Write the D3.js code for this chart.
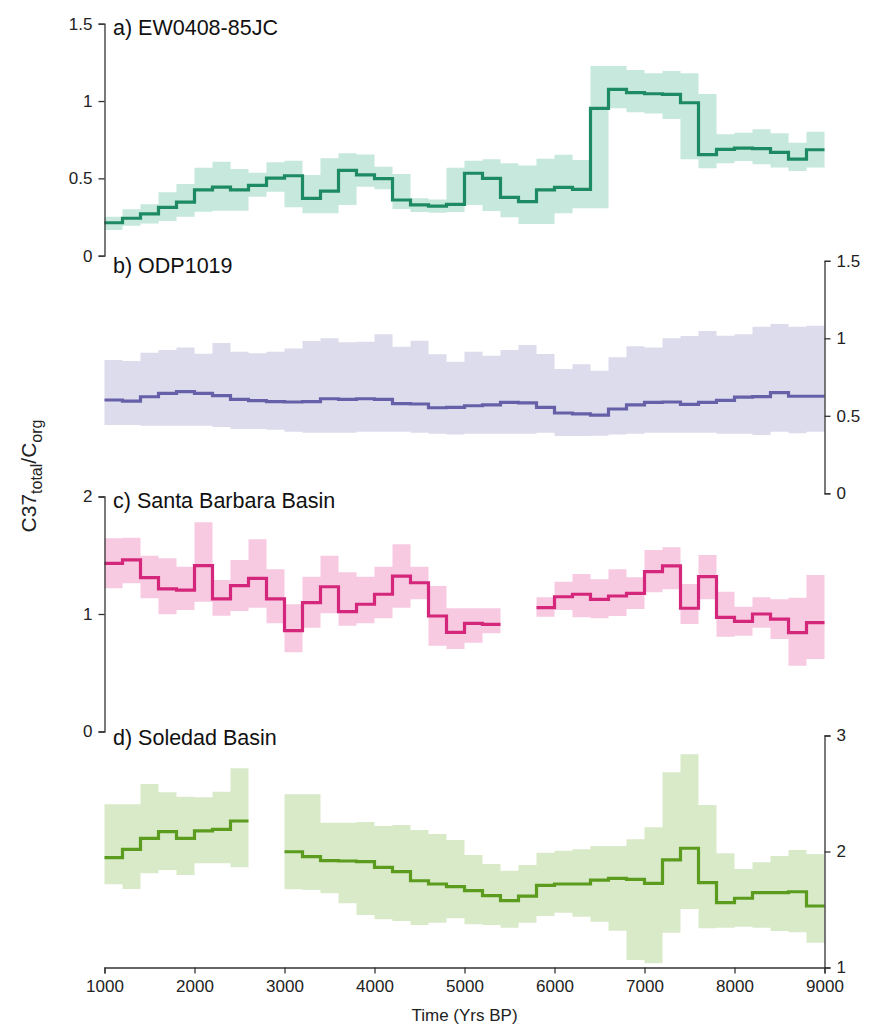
<!DOCTYPE html>
<html>
<head>
<meta charset="utf-8">
<script src="https://cdn.jsdelivr.net/npm/d3@7"></script>
<style>
  html, body { margin: 0; padding: 0; background: #fff; }
  svg { display: block; font-family: "Liberation Sans", Arial, Helvetica, sans-serif; }
</style>
</head>
<body>
<svg id="chart" width="869" height="1029"></svg>
<script>
// 200-year bins, 1000-9000 yr BP (bin start years)
const binStarts = [1000,1200,1400,1600,1800,2000,2200,2400,2600,2800,
                   3000,3200,3400,3600,3800,4000,4200,4400,4600,4800,
                   5000,5200,5400,5600,5800,6000,6200,6400,6600,6800,
                   7000,7200,7400,7600,7800,8000,8200,8400,8600,8800];
const binWidth = 200;
const xTicks = [1000,2000,3000,4000,5000,6000,7000,8000,9000];

// a) EW0408-85JC
const ewMid = [0.213,0.242,0.27,0.313,0.347,0.425,0.444,0.425,0.455,0.502,
               0.517,0.371,0.418,0.552,0.522,0.498,0.36,0.328,0.321,0.332,
               0.533,0.5,0.377,0.349,0.425,0.442,0.429,0.953,1.076,1.054,
               1.047,1.043,0.989,0.653,0.688,0.696,0.692,0.668,0.625,0.685];
const ewHigh = [0.252,0.30,0.332,0.41,0.463,0.569,0.608,0.56,0.537,0.604,
                0.614,0.522,0.63,0.662,0.655,0.575,0.528,0.371,0.364,0.569,
                0.614,0.623,0.597,0.584,0.627,0.653,0.619,1.226,1.226,1.2,
                1.179,1.194,1.179,1.045,0.785,0.795,0.817,0.791,0.73,0.802];
const ewLow = [0.166,0.194,0.209,0.224,0.252,0.284,0.291,0.291,0.381,0.414,
               0.313,0.274,0.274,0.328,0.446,0.429,0.302,0.282,0.278,0.282,
               0.328,0.289,0.248,0.205,0.205,0.274,0.306,0.306,0.953,0.927,
               0.92,0.884,0.623,0.565,0.597,0.612,0.591,0.571,0.548,0.571];

// b) ODP1019
const odpMid = [0.602,0.595,0.623,0.645,0.656,0.645,0.63,0.606,0.598,0.591,
                0.589,0.591,0.61,0.606,0.61,0.606,0.578,0.576,0.552,0.555,
                0.565,0.57,0.587,0.583,0.555,0.518,0.512,0.505,0.544,0.57,
                0.587,0.589,0.574,0.587,0.6,0.621,0.624,0.649,0.626,0.626];
const odpHigh = [0.86,0.853,0.907,0.925,0.94,0.901,0.97,0.914,0.903,0.914,
                 0.935,0.983,1.0,0.974,0.978,1.026,0.946,0.985,0.897,0.849,
                 0.914,0.888,0.925,0.957,0.899,0.802,0.832,0.791,0.877,0.948,
                 0.94,1.0,1.015,1.047,1.017,1.026,1.075,1.092,1.075,1.081];
const odpLow = [0.441,0.441,0.436,0.436,0.436,0.436,0.428,0.415,0.415,0.41,
                0.397,0.39,0.39,0.39,0.397,0.397,0.397,0.39,0.385,0.38,
                0.385,0.385,0.385,0.385,0.39,0.37,0.37,0.372,0.38,0.385,
                0.39,0.39,0.39,0.39,0.385,0.385,0.376,0.397,0.387,0.397];

// c) Santa Barbara Basin (no data 5400-5800)
const sbbMid = [1.431,1.46,1.309,1.213,1.204,1.411,1.128,1.241,1.304,1.128,
                0.858,1.096,1.232,1.02,1.083,1.168,1.323,1.266,0.983,0.844,
                0.921,0.912,null,null,1.054,1.147,1.168,1.125,1.153,1.176,
                1.36,1.409,1.049,1.318,0.972,0.938,1.0,0.957,0.841,0.926];
const sbbHigh = [1.644,1.65,1.496,1.474,1.403,1.78,1.289,1.46,1.636,1.38,
                 1.083,1.318,1.496,1.355,1.318,1.403,1.593,1.403,1.238,1.049,
                 1.049,1.049,null,null,1.142,1.275,1.34,1.295,1.38,1.312,
                 1.545,1.568,1.255,1.502,1.19,1.062,1.142,1.125,1.139,1.332];
const sbbLow = [1.219,1.261,1.134,0.997,1.034,1.105,0.986,1.026,1.054,0.921,
                0.674,0.883,1.006,0.9,0.921,0.963,1.054,1.125,0.73,0.702,
                0.756,0.836,null,null,0.977,1.034,0.972,0.963,0.983,1.043,
                1.185,1.21,0.915,1.125,0.807,0.815,0.883,0.787,0.56,0.617];

// d) Soledad Basin (no data 2600-3000)
const solMid = [1.947,2.019,2.114,2.171,2.114,2.177,2.191,2.263,null,null,
                1.998,1.955,1.921,1.918,1.912,1.864,1.826,1.748,1.72,1.697,
                1.662,1.619,1.576,1.616,1.708,1.72,1.72,1.754,1.769,1.76,
                1.726,1.927,2.028,1.731,1.559,1.597,1.645,1.645,1.653,1.53];
const solHigh = [2.407,2.407,2.582,2.51,2.472,2.467,2.516,2.717,null,null,
                 2.493,2.493,2.248,2.248,2.254,2.22,2.228,2.185,2.151,2.099,
                 1.97,1.892,1.835,1.884,1.99,2.007,2.019,2.047,2.047,2.105,
                 2.209,2.683,2.838,2.401,1.984,1.849,1.907,1.961,2.013,1.978];
const solLow = [1.717,1.677,1.812,1.841,1.797,1.898,1.898,1.864,null,null,
                1.674,1.668,1.64,1.553,1.453,1.415,1.401,1.366,1.386,1.424,
                1.372,1.366,1.343,1.386,1.444,1.473,1.438,1.395,1.317,1.065,
                1.036,1.3,1.504,1.338,1.343,1.352,1.343,1.315,1.303,1.214];

const svg = d3.select("#chart");
const axisColor = "#333";
const x = d3.scaleLinear().domain([1000, 9000]).range([104.5, 824.5]);

const panels = [
  { title: "a) EW0408-85JC", mid: ewMid, hi: ewHigh, lo: ewLow,
    domain: [0, 1.5], range: [255.7, 23.7], ticks: [0, 0.5, 1, 1.5], side: "left",
    line: "#1d8a63", band: "#c6e8dd", titleY: 35 },
  { title: "b) ODP1019", mid: odpMid, hi: odpHigh, lo: odpLow,
    domain: [0, 1.5], range: [493.3, 260.8], ticks: [0, 0.5, 1, 1.5], side: "right",
    line: "#6660a8", band: "#dddcec", titleY: 273 },
  { title: "c) Santa Barbara Basin", mid: sbbMid, hi: sbbHigh, lo: sbbLow,
    domain: [0, 2], range: [731.5, 496.5], ticks: [0, 1, 2], side: "left",
    line: "#d4267a", band: "#f8cae2", titleY: 508 },
  { title: "d) Soledad Basin", mid: solMid, hi: solHigh, lo: solLow,
    domain: [1, 3], range: [967.5, 735.5], ticks: [1, 2, 3], side: "right",
    line: "#5b9b1d", band: "#d9eac9", titleY: 745 }
];

// split a binned series into contiguous runs of step points
function runs(mid, hi, lo) {
  const out = [];
  let cur = null;
  binStarts.forEach((t, i) => {
    if (mid[i] == null) { cur = null; return; }
    if (!cur) { cur = []; out.push(cur); }
    cur.push({ t, v: mid[i], hi: hi[i], lo: lo[i] });
  });
  out.forEach(r => {
    const last = r[r.length - 1];
    r.push({ t: last.t + binWidth, v: last.v, hi: last.hi, lo: last.lo });
  });
  return out;
}

panels.forEach(p => {
  const y = d3.scaleLinear().domain(p.domain).range(p.range);
  const g = svg.append("g");
  const segs = runs(p.mid, p.hi, p.lo);

  const area = d3.area().curve(d3.curveStepAfter)
    .x(d => x(d.t)).y0(d => y(d.lo)).y1(d => y(d.hi));
  const line = d3.line().curve(d3.curveStepAfter)
    .x(d => x(d.t)).y(d => y(d.v));

  g.selectAll("path.band").data(segs).join("path")
    .attr("class", "band").attr("d", area)
    .attr("fill", p.band).attr("stroke", "none");
  g.selectAll("path.mid").data(segs).join("path")
    .attr("class", "mid").attr("d", line)
    .attr("fill", "none").attr("stroke", p.line)
    .attr("stroke-width", 3.2).attr("stroke-linejoin", "miter");

  const axis = (p.side === "left" ? d3.axisLeft(y) : d3.axisRight(y))
    .tickValues(p.ticks).tickSizeOuter(0).tickSize(6).tickPadding(6)
    .tickFormat(d3.format("~g"));
  const ax = svg.append("g")
    .attr("transform", `translate(${p.side === "left" ? x(1000) : x(9000)},0)`)
    .call(axis);
  ax.select(".domain").attr("stroke", axisColor).attr("stroke-width", 1.3);
  ax.selectAll(".tick line").attr("stroke", axisColor).attr("stroke-width", 1.3);
  ax.selectAll(".tick text").attr("fill", "#222").attr("font-size", 17)
    .attr("font-family", "Liberation Sans, Arial, sans-serif");

  svg.append("text")
    .attr("x", 113).attr("y", p.titleY)
    .attr("font-size", 21.5).attr("fill", "#111")
    .text(p.title);
});

// shared time axis
const xAxis = d3.axisBottom(x).tickValues(xTicks).tickSizeOuter(0)
  .tickSize(6).tickPadding(6).tickFormat(d3.format("d"));
const xa = svg.append("g").attr("transform", "translate(0,967.5)").call(xAxis);
xa.select(".domain").attr("stroke", axisColor).attr("stroke-width", 1.3);
xa.selectAll(".tick line").attr("stroke", axisColor).attr("stroke-width", 1.3);
xa.selectAll(".tick text").attr("fill", "#222").attr("font-size", 17)
  .attr("font-family", "Liberation Sans, Arial, sans-serif");

svg.append("text")
  .attr("x", x(5000)).attr("y", 1021)
  .attr("text-anchor", "middle").attr("font-size", 17).attr("fill", "#222")
  .text("Time (Yrs BP)");

// y-axis title with subscripts
const yt = svg.append("text")
  .attr("transform", "translate(36,476) rotate(-90)")
  .attr("text-anchor", "middle").attr("font-size", 21).attr("fill", "#222");
yt.append("tspan").text("C37");
yt.append("tspan").attr("font-size", 16).attr("dy", 6).text("total");
yt.append("tspan").attr("dy", -6).text("/C");
yt.append("tspan").attr("font-size", 16).attr("dy", 6).text("org");
</script>
</body>
</html>
